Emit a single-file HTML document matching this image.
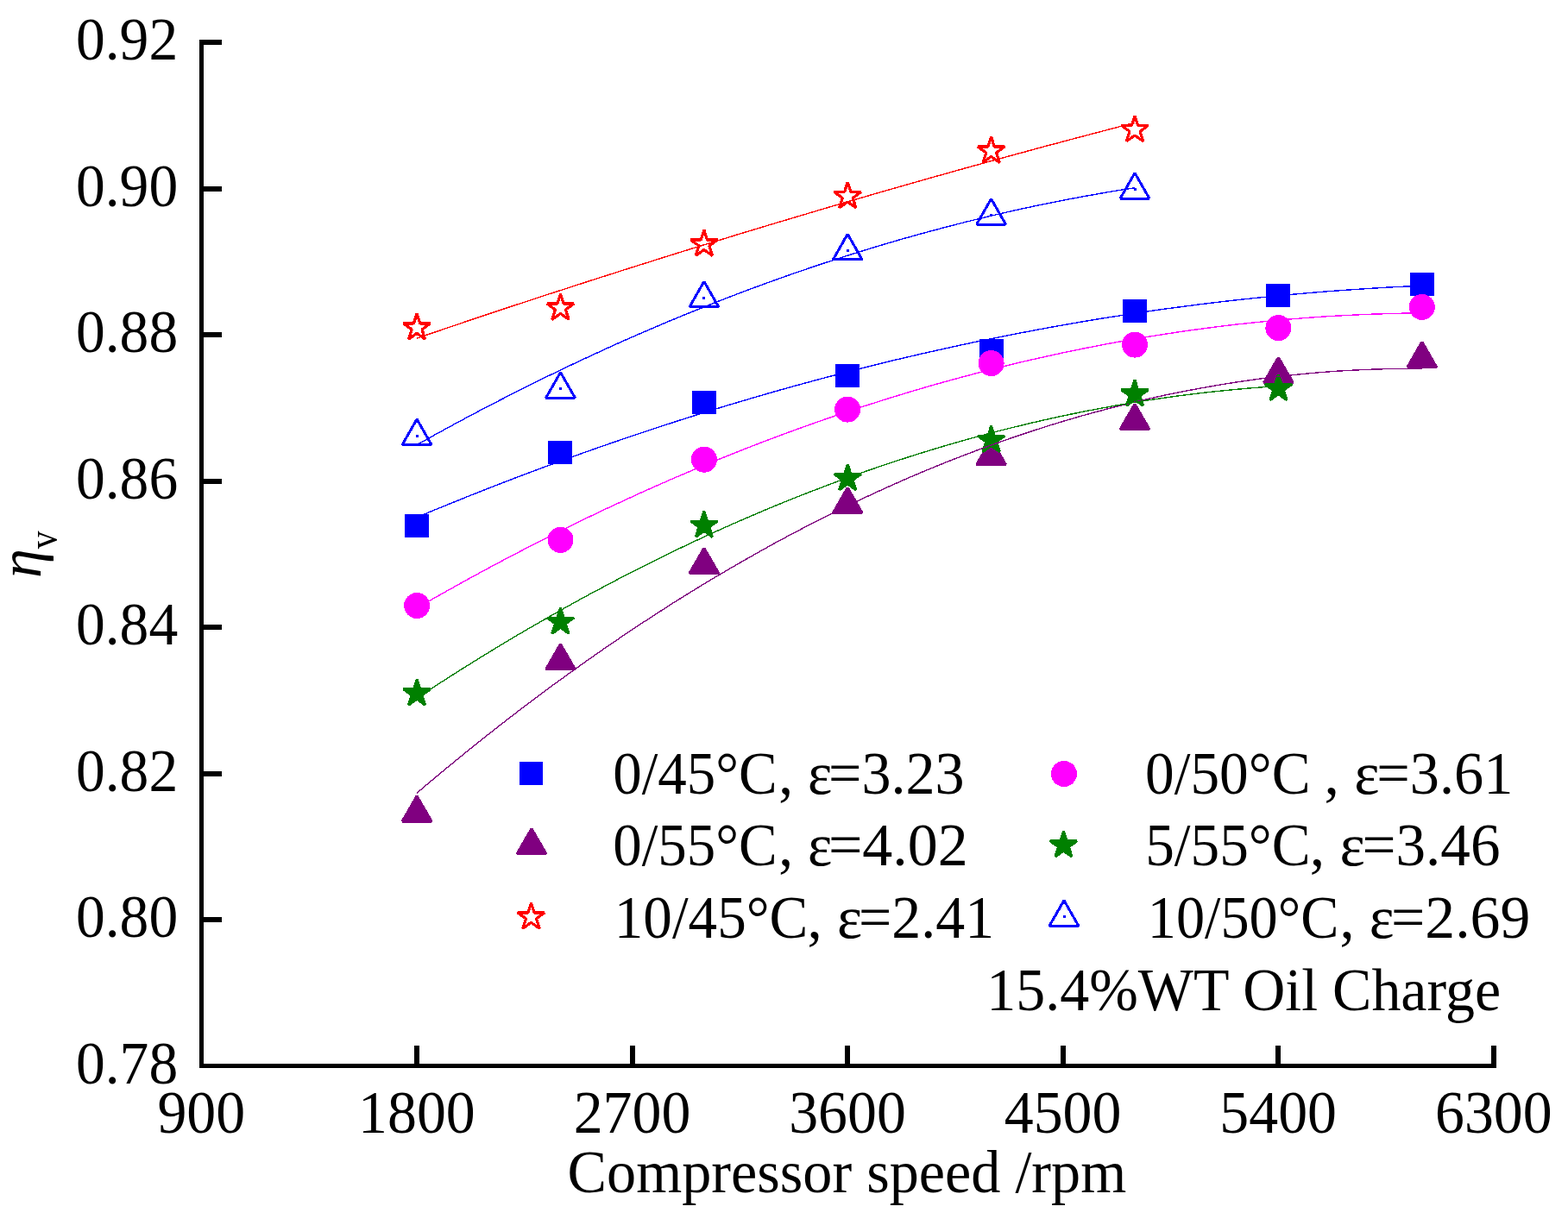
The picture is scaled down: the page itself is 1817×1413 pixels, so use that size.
<!DOCTYPE html>
<html lang="en"><head><meta charset="utf-8"><title>Volumetric efficiency vs compressor speed</title>
<style>
html,body{margin:0;padding:0;background:#fff;}
body{width:1817px;height:1413px;overflow:hidden;}
svg{display:block;}
text{font-family:"Liberation Serif", "DejaVu Serif", serif;font-size:68px;fill:#000;}
.ax{fill:#000;shape-rendering:crispEdges;}
.fit{fill:none;stroke-width:1.4;shape-rendering:crispEdges;}
.mk{shape-rendering:crispEdges;}
</style></head><body>
<svg width="1817" height="1413" viewBox="0 0 1817 1413">
<rect x="0" y="0" width="1817" height="1413" fill="#fff"/>
<g class="ax">
<rect x="231" y="46" width="5" height="1192"/>
<rect x="231" y="1233" width="1503" height="5"/>
<rect x="236" y="46" width="21" height="6"/>
<rect x="236" y="216" width="21" height="6"/>
<rect x="236" y="385" width="21" height="6"/>
<rect x="236" y="555" width="21" height="6"/>
<rect x="236" y="724" width="21" height="6"/>
<rect x="236" y="894" width="21" height="6"/>
<rect x="236" y="1063" width="21" height="6"/>
<rect x="480" y="1212" width="6" height="21"/>
<rect x="730" y="1212" width="6" height="21"/>
<rect x="979" y="1212" width="6" height="21"/>
<rect x="1229" y="1212" width="6" height="21"/>
<rect x="1478" y="1212" width="6" height="21"/>
<rect x="1728" y="1212" width="6" height="21"/>
</g>
<g>
<text transform="translate(206.2,69.4) scale(0.994,1.025)" text-anchor="end">0.92</text>
<text transform="translate(206.2,238.9) scale(0.994,1.025)" text-anchor="end">0.90</text>
<text transform="translate(206.2,408.4) scale(0.994,1.025)" text-anchor="end">0.88</text>
<text transform="translate(206.2,577.9) scale(0.994,1.025)" text-anchor="end">0.86</text>
<text transform="translate(206.2,747.4) scale(0.994,1.025)" text-anchor="end">0.84</text>
<text transform="translate(206.2,916.9) scale(0.994,1.025)" text-anchor="end">0.82</text>
<text transform="translate(206.2,1086.4) scale(0.994,1.025)" text-anchor="end">0.80</text>
<text transform="translate(206.2,1255.9) scale(0.994,1.025)" text-anchor="end">0.78</text>
<text transform="translate(233.3,1312.8) scale(0.998,1.025)" text-anchor="middle">900</text>
<text transform="translate(482.9,1312.8) scale(0.998,1.025)" text-anchor="middle">1800</text>
<text transform="translate(732.5,1312.8) scale(0.998,1.025)" text-anchor="middle">2700</text>
<text transform="translate(982.0,1312.8) scale(0.998,1.025)" text-anchor="middle">3600</text>
<text transform="translate(1231.6,1312.8) scale(0.998,1.025)" text-anchor="middle">4500</text>
<text transform="translate(1481.2,1312.8) scale(0.998,1.025)" text-anchor="middle">5400</text>
<text transform="translate(1730.8,1312.8) scale(0.998,1.025)" text-anchor="middle">6300</text>
</g>
<text transform="translate(657.6,1381.6) scale(1.0027,1.025)" text-anchor="start">Compressor speed /rpm</text>
<text transform="translate(46.5,670) rotate(-90) scale(1,1.025)" style="font-style:italic">η</text>
<text transform="translate(66.3,636.2) rotate(-90) scale(0.885,1.025)" style="font-size:47px">v</text>
<g class="mk">
<rect x="469" y="596" width="28" height="27" fill="#0000ff"/>
<rect x="635" y="511" width="28" height="27" fill="#0000ff"/>
<rect x="802" y="453" width="28" height="27" fill="#0000ff"/>
<rect x="968" y="422" width="28" height="27" fill="#0000ff"/>
<rect x="1135" y="393" width="28" height="27" fill="#0000ff"/>
<rect x="1301" y="347" width="28" height="27" fill="#0000ff"/>
<rect x="1467" y="329" width="28" height="27" fill="#0000ff"/>
<rect x="1634" y="316" width="28" height="27" fill="#0000ff"/>
<circle cx="483.1" cy="702.0" r="15" fill="#ff00ff"/>
<circle cx="649.5" cy="625.8" r="15" fill="#ff00ff"/>
<circle cx="815.9" cy="532.7" r="15" fill="#ff00ff"/>
<circle cx="982.2" cy="474.6" r="15" fill="#ff00ff"/>
<circle cx="1148.6" cy="421.1" r="15" fill="#ff00ff"/>
<circle cx="1315.0" cy="399.6" r="15" fill="#ff00ff"/>
<circle cx="1481.4" cy="380.2" r="15" fill="#ff00ff"/>
<circle cx="1647.8" cy="355.9" r="15" fill="#ff00ff"/>
<polygon points="483.1,922.7 500.0,952.0 466.2,952.0" fill="#800080" stroke="#800080" stroke-width="3" stroke-linejoin="bevel"/>
<polygon points="649.5,746.6 666.4,775.9 632.6,775.9" fill="#800080" stroke="#800080" stroke-width="3" stroke-linejoin="bevel"/>
<polygon points="815.9,635.3 832.8,664.6 799.0,664.6" fill="#800080" stroke="#800080" stroke-width="3" stroke-linejoin="bevel"/>
<polygon points="982.2,565.3 999.1,594.6 965.4,594.6" fill="#800080" stroke="#800080" stroke-width="3" stroke-linejoin="bevel"/>
<polygon points="1148.6,509.3 1165.5,538.6 1131.7,538.6" fill="#800080" stroke="#800080" stroke-width="3" stroke-linejoin="bevel"/>
<polygon points="1315.0,468.3 1331.9,497.6 1298.1,497.6" fill="#800080" stroke="#800080" stroke-width="3" stroke-linejoin="bevel"/>
<polygon points="1481.4,414.3 1498.3,443.6 1464.5,443.6" fill="#800080" stroke="#800080" stroke-width="3" stroke-linejoin="bevel"/>
<polygon points="1647.8,396.3 1664.7,425.6 1630.9,425.6" fill="#800080" stroke="#800080" stroke-width="3" stroke-linejoin="bevel"/>
<polygon points="483.1,787.6 486.8,798.9 498.7,798.9 489.0,805.9 492.7,817.3 483.1,810.3 473.4,817.3 477.1,805.9 467.5,798.9 479.4,798.9" fill="#008000" stroke="#008000" stroke-width="3" stroke-linejoin="bevel"/>
<polygon points="649.5,704.7 653.2,716.0 665.1,716.0 655.4,723.0 659.1,734.4 649.5,727.4 639.8,734.4 643.5,723.0 633.9,716.0 645.8,716.0" fill="#008000" stroke="#008000" stroke-width="3" stroke-linejoin="bevel"/>
<polygon points="815.9,592.7 819.5,604.0 831.5,604.0 821.8,611.0 825.5,622.4 815.9,615.4 806.2,622.4 809.9,611.0 800.3,604.0 812.2,604.0" fill="#008000" stroke="#008000" stroke-width="3" stroke-linejoin="bevel"/>
<polygon points="982.2,538.2 985.9,549.5 997.8,549.5 988.2,556.5 991.9,567.9 982.2,560.9 972.6,567.9 976.3,556.5 966.7,549.5 978.6,549.5" fill="#008000" stroke="#008000" stroke-width="3" stroke-linejoin="bevel"/>
<polygon points="1148.6,493.9 1152.3,505.2 1164.2,505.2 1154.6,512.2 1158.3,523.6 1148.6,516.6 1139.0,523.6 1142.7,512.2 1133.0,505.2 1145.0,505.2" fill="#008000" stroke="#008000" stroke-width="3" stroke-linejoin="bevel"/>
<polygon points="1315.0,440.6 1318.7,451.9 1330.6,451.9 1321.0,458.9 1324.7,470.3 1315.0,463.3 1305.4,470.3 1309.1,458.9 1299.4,451.9 1311.3,451.9" fill="#008000" stroke="#008000" stroke-width="3" stroke-linejoin="bevel"/>
<polygon points="1481.4,434.0 1485.1,445.3 1497.0,445.3 1487.4,452.3 1491.1,463.7 1481.4,456.7 1471.8,463.7 1475.5,452.3 1465.8,445.3 1477.7,445.3" fill="#008000" stroke="#008000" stroke-width="3" stroke-linejoin="bevel"/>
<polygon points="483.1,363.6 486.8,374.9 498.7,374.9 489.0,381.9 492.7,393.3 483.1,386.3 473.4,393.3 477.1,381.9 467.5,374.9 479.4,374.9" fill="none" stroke="#ff0000" stroke-width="3.2" stroke-linejoin="bevel"/>
<polygon points="649.5,340.7 653.2,352.0 665.1,352.0 655.4,359.0 659.1,370.4 649.5,363.4 639.8,370.4 643.5,359.0 633.9,352.0 645.8,352.0" fill="none" stroke="#ff0000" stroke-width="3.2" stroke-linejoin="bevel"/>
<polygon points="815.9,266.7 819.5,278.0 831.5,278.0 821.8,285.0 825.5,296.4 815.9,289.4 806.2,296.4 809.9,285.0 800.3,278.0 812.2,278.0" fill="none" stroke="#ff0000" stroke-width="3.2" stroke-linejoin="bevel"/>
<polygon points="982.2,211.2 985.9,222.5 997.8,222.5 988.2,229.5 991.9,240.9 982.2,233.9 972.6,240.9 976.3,229.5 966.7,222.5 978.6,222.5" fill="none" stroke="#ff0000" stroke-width="3.2" stroke-linejoin="bevel"/>
<polygon points="1148.6,158.7 1152.3,170.0 1164.2,170.0 1154.6,177.0 1158.3,188.4 1148.6,181.4 1139.0,188.4 1142.7,177.0 1133.0,170.0 1145.0,170.0" fill="none" stroke="#ff0000" stroke-width="3.2" stroke-linejoin="bevel"/>
<polygon points="1315.0,134.1 1318.7,145.4 1330.6,145.4 1321.0,152.4 1324.7,163.8 1315.0,156.8 1305.4,163.8 1309.1,152.4 1299.4,145.4 1311.3,145.4" fill="none" stroke="#ff0000" stroke-width="3.2" stroke-linejoin="bevel"/>
<polygon points="483.1,485.9 500.0,515.4 466.2,515.4" fill="none" stroke="#0000ff" stroke-width="3" stroke-linejoin="bevel"/><rect x="482" y="504" width="3" height="3" fill="#0000ff"/>
<polygon points="649.5,431.7 666.4,461.2 632.6,461.2" fill="none" stroke="#0000ff" stroke-width="3" stroke-linejoin="bevel"/><rect x="648" y="449" width="3" height="3" fill="#0000ff"/>
<polygon points="815.9,326.3 832.8,355.8 799.0,355.8" fill="none" stroke="#0000ff" stroke-width="3" stroke-linejoin="bevel"/><rect x="814" y="344" width="3" height="3" fill="#0000ff"/>
<polygon points="982.2,271.3 999.1,300.8 965.4,300.8" fill="none" stroke="#0000ff" stroke-width="3" stroke-linejoin="bevel"/><rect x="981" y="289" width="3" height="3" fill="#0000ff"/>
<polygon points="1148.6,230.5 1165.5,260.0 1131.7,260.0" fill="none" stroke="#0000ff" stroke-width="3" stroke-linejoin="bevel"/><rect x="1147" y="248" width="3" height="3" fill="#0000ff"/>
<polygon points="1315.0,200.5 1331.9,230.0 1298.1,230.0" fill="none" stroke="#0000ff" stroke-width="3" stroke-linejoin="bevel"/><rect x="1314" y="218" width="3" height="3" fill="#0000ff"/>
</g>
<g class="fit">
<polyline stroke="#0000ff" points="483.1,599.6 502.8,591.4 522.6,583.4 542.3,575.4 562.0,567.6 581.8,559.9 601.5,552.3 621.3,544.9 641.0,537.6 660.8,530.4 680.5,523.3 700.2,516.4 720.0,509.6 739.7,502.9 759.5,496.3 779.2,489.9 798.9,483.6 818.7,477.4 838.4,471.3 858.2,465.4 877.9,459.6 897.6,453.9 917.4,448.3 937.1,442.9 956.9,437.6 976.6,432.4 996.4,427.4 1016.1,422.4 1035.8,417.6 1055.6,413.0 1075.3,408.4 1095.1,404.0 1114.8,399.7 1134.5,395.5 1154.3,391.5 1174.0,387.6 1193.8,383.8 1213.5,380.1 1233.2,376.6 1253.0,373.1 1272.7,369.8 1292.5,366.7 1312.2,363.6 1331.9,360.7 1351.7,357.9 1371.4,355.3 1391.2,352.7 1410.9,350.3 1430.7,348.0 1450.4,345.9 1470.1,343.9 1489.9,341.9 1509.6,340.2 1529.4,338.5 1549.1,337.0 1568.8,335.6 1588.6,334.3 1608.3,333.1 1628.1,332.1 1647.8,331.2"/>
<polyline stroke="#ff00ff" points="483.1,704.8 502.8,693.5 522.6,682.4 542.3,671.4 562.0,660.7 581.8,650.1 601.5,639.8 621.3,629.6 641.0,619.6 660.8,609.8 680.5,600.2 700.2,590.8 720.0,581.6 739.7,572.5 759.5,563.7 779.2,555.0 798.9,546.6 818.7,538.3 838.4,530.2 858.2,522.3 877.9,514.6 897.6,507.1 917.4,499.8 937.1,492.7 956.9,485.7 976.6,479.0 996.4,472.4 1016.1,466.1 1035.8,459.9 1055.6,453.9 1075.3,448.1 1095.1,442.5 1114.8,437.1 1134.5,431.9 1154.3,426.8 1174.0,422.0 1193.8,417.3 1213.5,412.9 1233.2,408.6 1253.0,404.5 1272.7,400.6 1292.5,396.9 1312.2,393.4 1331.9,390.1 1351.7,387.0 1371.4,384.0 1391.2,381.3 1410.9,378.7 1430.7,376.3 1450.4,374.2 1470.1,372.2 1489.9,370.4 1509.6,368.8 1529.4,367.3 1549.1,366.1 1568.8,365.1 1588.6,364.2 1608.3,363.6 1628.1,363.1 1647.8,362.8"/>
<polyline stroke="#800080" points="483.1,919.2 502.8,902.5 522.6,886.2 542.3,870.1 562.0,854.3 581.8,838.8 601.5,823.6 621.3,808.7 641.0,794.0 660.8,779.7 680.5,765.6 700.2,751.8 720.0,738.3 739.7,725.1 759.5,712.2 779.2,699.5 798.9,687.2 818.7,675.1 838.4,663.4 858.2,651.9 877.9,640.7 897.6,629.7 917.4,619.1 937.1,608.8 956.9,598.7 976.6,588.9 996.4,579.5 1016.1,570.3 1035.8,561.4 1055.6,552.7 1075.3,544.4 1095.1,536.3 1114.8,528.6 1134.5,521.1 1154.3,513.9 1174.0,507.0 1193.8,500.4 1213.5,494.0 1233.2,488.0 1253.0,482.2 1272.7,476.8 1292.5,471.6 1312.2,466.7 1331.9,462.1 1351.7,457.7 1371.4,453.7 1391.2,450.0 1410.9,446.5 1430.7,443.3 1450.4,440.4 1470.1,437.8 1489.9,435.5 1509.6,433.5 1529.4,431.7 1549.1,430.2 1568.8,429.1 1588.6,428.2 1608.3,427.6 1628.1,427.3 1647.8,427.2"/>
<polyline stroke="#008000" points="483.1,809.2 500.0,798.1 516.9,787.2 533.8,776.4 550.8,765.8 567.7,755.4 584.6,745.2 601.5,735.1 618.5,725.2 635.4,715.5 652.3,705.9 669.2,696.5 686.1,687.3 703.1,678.3 720.0,669.4 736.9,660.7 753.8,652.2 770.7,643.8 787.7,635.6 804.6,627.6 821.5,619.8 838.4,612.1 855.3,604.6 872.3,597.3 889.2,590.1 906.1,583.1 923.0,576.3 939.9,569.7 956.9,563.2 973.8,556.9 990.7,550.8 1007.6,544.8 1024.6,539.0 1041.5,533.4 1058.4,528.0 1075.3,522.7 1092.2,517.6 1109.2,512.7 1126.1,507.9 1143.0,503.3 1159.9,498.9 1176.8,494.7 1193.8,490.6 1210.7,486.7 1227.6,482.9 1244.5,479.4 1261.4,476.0 1278.4,472.8 1295.3,469.7 1312.2,466.8 1329.1,464.1 1346.0,461.6 1363.0,459.2 1379.9,457.1 1396.8,455.0 1413.7,453.2 1430.7,451.5 1447.6,450.0 1464.5,448.7 1481.4,447.5"/>
<polyline stroke="#ff0000" points="483.1,392.1 497.2,387.3 511.3,382.5 525.4,377.7 539.5,372.9 553.6,368.2 567.7,363.5 581.8,358.8 595.9,354.1 610.0,349.5 624.1,344.9 638.2,340.2 652.3,335.7 666.4,331.1 680.5,326.5 694.6,322.0 708.7,317.5 722.8,313.0 736.9,308.5 751.0,304.1 765.1,299.6 779.2,295.2 793.3,290.8 807.4,286.4 821.5,282.1 835.6,277.8 849.7,273.4 863.8,269.1 877.9,264.9 892.0,260.6 906.1,256.4 920.2,252.2 934.3,248.0 948.4,243.8 962.5,239.6 976.6,235.5 990.7,231.4 1004.8,227.3 1018.9,223.2 1033.0,219.2 1047.1,215.1 1061.2,211.1 1075.3,207.1 1089.4,203.1 1103.5,199.2 1117.6,195.2 1131.7,191.3 1145.8,187.4 1159.9,183.6 1174.0,179.7 1188.1,175.9 1202.2,172.0 1216.3,168.2 1230.4,164.5 1244.5,160.7 1258.6,157.0 1272.7,153.3 1286.8,149.6 1300.9,145.9 1315.0,142.2"/>
<polyline stroke="#0000ff" points="483.1,515.6 497.2,507.7 511.3,500.0 525.4,492.3 539.5,484.7 553.6,477.2 567.7,469.8 581.8,462.6 595.9,455.4 610.0,448.3 624.1,441.3 638.2,434.4 652.3,427.6 666.4,420.9 680.5,414.3 694.6,407.8 708.7,401.3 722.8,395.0 736.9,388.8 751.0,382.7 765.1,376.7 779.2,370.7 793.3,364.9 807.4,359.2 821.5,353.6 835.6,348.0 849.7,342.6 863.8,337.2 877.9,332.0 892.0,326.8 906.1,321.8 920.2,316.8 934.3,312.0 948.4,307.2 962.5,302.6 976.6,298.0 990.7,293.5 1004.8,289.2 1018.9,284.9 1033.0,280.7 1047.1,276.6 1061.2,272.7 1075.3,268.8 1089.4,265.0 1103.5,261.3 1117.6,257.7 1131.7,254.2 1145.8,250.8 1159.9,247.5 1174.0,244.3 1188.1,241.2 1202.2,238.2 1216.3,235.3 1230.4,232.5 1244.5,229.8 1258.6,227.2 1272.7,224.7 1286.8,222.2 1300.9,219.9 1315.0,217.7"/>
</g>
<g class="mk">
<rect x="602" y="883" width="27" height="27" fill="#0000ff"/>
<polygon points="616.0,960.5 632.9,989.8 599.1,989.8" fill="#800080" stroke="#800080" stroke-width="3" stroke-linejoin="bevel"/>
<polygon points="615.5,1046.6 619.2,1057.9 631.1,1057.9 621.5,1064.9 625.1,1076.3 615.5,1069.3 605.9,1076.3 609.5,1064.9 599.9,1057.9 611.8,1057.9" fill="none" stroke="#ff0000" stroke-width="3.2" stroke-linejoin="bevel"/>
<circle cx="1233.0" cy="897.0" r="15" fill="#ff00ff"/>
<polygon points="1232.5,963.5 1236.2,974.8 1248.1,974.8 1238.5,981.8 1242.1,993.2 1232.5,986.2 1222.9,993.2 1226.5,981.8 1216.9,974.8 1228.8,974.8" fill="#008000" stroke="#008000" stroke-width="3" stroke-linejoin="bevel"/>
<polygon points="1233.0,1043.7 1249.9,1073.2 1216.1,1073.2" fill="none" stroke="#0000ff" stroke-width="3" stroke-linejoin="bevel"/><rect x="1232" y="1061" width="3" height="3" fill="#0000ff"/>
</g>
<g>
<text transform="translate(710.2,919.8) scale(0.9848,1.025)" text-anchor="start">0/45°C</text>
<text transform="translate(902.3,919.8) scale(0.9913,1.025)" text-anchor="start">, ε</text>
<text transform="translate(960.0,919.8) scale(1.0019,1.025)" text-anchor="start">=3.23</text>
</g>
<g>
<text transform="translate(710.2,1002.8) scale(0.9848,1.025)" text-anchor="start">0/55°C</text>
<text transform="translate(902.3,1002.8) scale(0.9913,1.025)" text-anchor="start">, ε</text>
<text transform="translate(959.9,1002.8) scale(1.0289,1.025)" text-anchor="start">=4.02</text>
</g>
<g>
<text transform="translate(711.8,1086.8) scale(0.9875,1.025)" text-anchor="start">10/45°C</text>
<text transform="translate(935.4,1086.8) scale(1.0189,1.025)" text-anchor="start">, ε</text>
<text transform="translate(995.1,1086.8) scale(0.9981,1.025)" text-anchor="start">=2.41</text>
</g>
<g>
<text transform="translate(1327.1,919.8) scale(0.9898,1.025)" text-anchor="start">0/50°C </text>
<text transform="translate(1534.5,919.8) scale(1.0258,1.025)" text-anchor="start">, ε</text>
<text transform="translate(1595.3,919.8) scale(1.0048,1.025)" text-anchor="start">=3.61</text>
</g>
<g>
<text transform="translate(1327.2,1002.8) scale(0.9896,1.025)" text-anchor="start">5/55°C</text>
<text transform="translate(1517.7,1002.8) scale(1.024,1.025)" text-anchor="start">, ε</text>
<text transform="translate(1578.4,1002.8) scale(1.0175,1.025)" text-anchor="start">=3.46</text>
</g>
<g>
<text transform="translate(1329.8,1086.8) scale(0.9742,1.025)" text-anchor="start">10/50°C</text>
<text transform="translate(1552.5,1086.8) scale(1.0068,1.025)" text-anchor="start">, ε</text>
<text transform="translate(1612.0,1086.8) scale(1.0253,1.025)" text-anchor="start">=2.69</text>
</g>
<text transform="translate(1143.3,1170.8) scale(0.9995,1.025)" text-anchor="start">15.4%WT Oil Charge</text>
</svg>
</body></html>
